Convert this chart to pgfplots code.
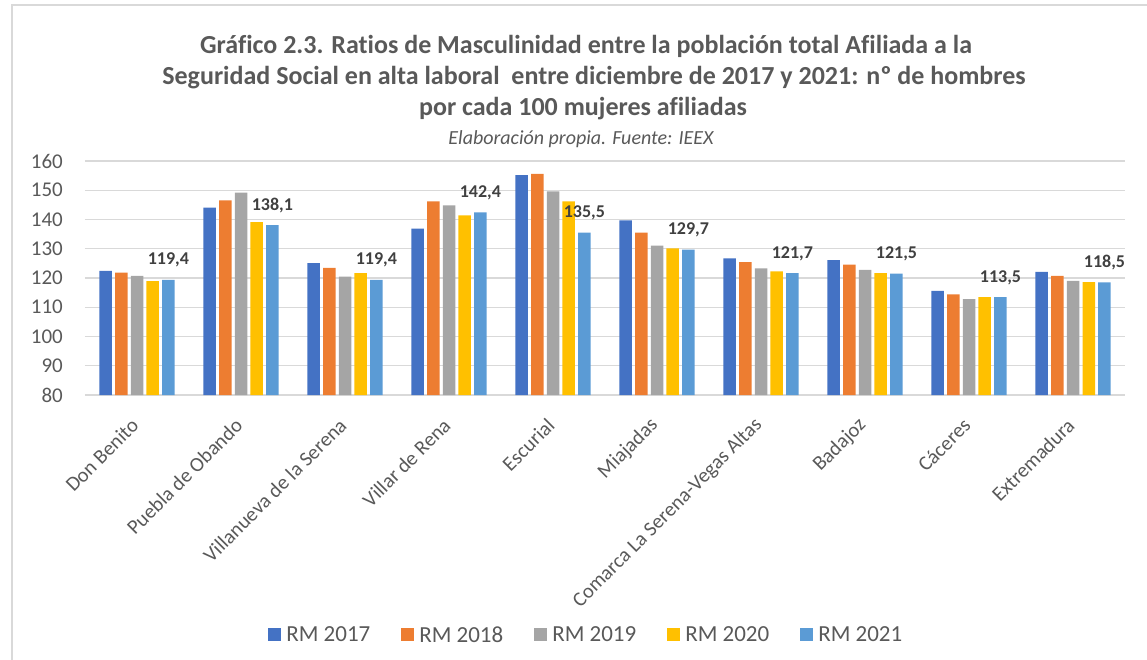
\documentclass[border=0pt]{standalone}
\usepackage{pgfplots}
\pgfplotsset{compat=1.18}
\usepackage{pgfplotstable}
\usepackage{fontspec}
\setmainfont{Carlito}[Ligatures=CommonOff]
\definecolor{c1}{HTML}{4472C4}
\definecolor{c2}{HTML}{ED7D31}
\definecolor{c3}{HTML}{A5A5A5}
\definecolor{c4}{HTML}{FFC000}
\definecolor{c5}{HTML}{5B9BD5}
\definecolor{txt}{HTML}{595959}
\definecolor{lbl}{HTML}{404040}
\definecolor{gridc}{HTML}{D9D9D9}
\pgfplotstableread{
x a b c d e
0 122.4 121.8 120.7 118.9 119.4
1 144.1 146.5 149.2 139.1 138.1
2 125.1 123.5 120.5 121.7 119.4
3 136.9 146.2 144.8 141.4 142.4
4 155.2 155.6 149.6 146.2 135.5
5 139.7 135.5 131.1 130.1 129.7
6 126.7 125.4 123.3 122.3 121.7
7 126.1 124.6 122.8 121.7 121.5
8 115.6 114.4 112.8 113.5 113.5
9 122.1 120.7 119.0 118.6 118.5
}\datatable
\begin{document}
\begin{tikzpicture}
\path[use as bounding box] (0,0) rectangle (1147pt,659pt);
\draw[gridc, line width=1.2pt] (12pt,-20pt) rectangle (1170pt,654pt);
\node[txt, font=\fontsize{26}{30}\selectfont\bfseries, anchor=base, inner sep=0pt] at (586pt,605pt) {Gráfico 2.3. Ratios de Masculinidad entre la población total Afiliada a la};
\node[txt, font=\fontsize{26}{30}\selectfont\bfseries, anchor=base, inner sep=0pt] at (594pt,574pt) {Seguridad Social en alta laboral~ entre diciembre de 2017 y 2021: nº de hombres};
\node[txt, font=\fontsize{26}{30}\selectfont\bfseries, anchor=base, inner sep=0pt] at (583pt,543pt) {por cada 100 mujeres afiliadas};
\node[txt, font=\fontsize{20}{24}\selectfont\itshape, anchor=base, inner sep=0pt] at (581pt,514pt) {Elaboración propia. Fuente: IEEX};
\begin{axis}[
  at={(85pt,264pt)}, anchor=south west,
  scale only axis, width=1040pt, height=234pt,
  ybar=3.2pt, bar width=12.5pt,
  xmin=-0.5, xmax=9.5, ymin=80, ymax=160,
  ytick={80,90,...,160},
  xtick={0,...,9},
  xticklabels={Don Benito,Puebla de Obando,Villanueva de la Serena,Villar de Rena,Escurial,Miajadas,Comarca La Serena-Vegas Altas,Badajoz,Cáceres,Extremadura},
  axis line style={draw=none},
  major tick length=0pt,
  ymajorgrids, major grid style={gridc, line width=1.2pt},
  /pgf/number format/assume math mode=true,
  yticklabel style={txt, font=\fontsize{21}{25}\selectfont, anchor=east, inner sep=0pt, xshift=-22pt},
  xticklabel style={txt, font=\fontsize{20.5}{24}\selectfont, yshift=-27pt, xshift=-2pt, rotate=45, anchor=east, inner sep=0pt},
  legend style={at={(0.482,-1.0256)}, anchor=center, draw=none, fill=none,
    font=\fontsize{23}{27}\selectfont, text=txt, legend columns=-1,
    /tikz/every even column/.append style={column sep=29pt},
    /tikz/every odd column/.append style={column sep=3pt},
    nodes={inner sep=2pt}},
  legend image code/.code={\fill[#1] (0pt,-6.5pt) rectangle (13pt,6.5pt);},
]
\addplot[fill=c1, draw=none] table[x=x,y=a] {\datatable};
\addplot[fill=c2, draw=none] table[x=x,y=b] {\datatable};
\addplot[fill=c3, draw=none] table[x=x,y=c] {\datatable};
\addplot[fill=c4, draw=none] table[x=x,y=d] {\datatable};
\addplot[fill=c5, draw=none,
  nodes near coords,
  nodes near coords style={lbl, font=\fontsize{18}{21}\selectfont\bfseries, anchor=south, yshift=9pt,
    /pgf/number format/.cd, use comma, fixed, fixed zerofill, precision=1, assume math mode=true}
  ] table[x=x,y=e] {\datatable};
\legend{RM 2017,RM 2018,RM 2019,RM 2020,RM 2021}
\end{axis}
\end{tikzpicture}
\end{document}
